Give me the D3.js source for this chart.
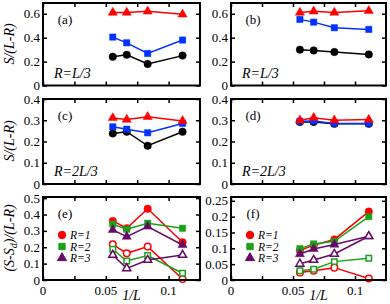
<!DOCTYPE html>
<html>
<head>
<meta charset="utf-8">
<script src="https://cdn.jsdelivr.net/npm/d3@7"></script>
<style>
  body { margin: 0; background: #fff; }
  svg text { font-family: "Liberation Serif", "DejaVu Serif", serif; }
</style>
</head>
<body>
<div id="chart"></div>
<script>
var svgWidth = 390;
var svgHeight = 304;

// 1/L for L = 18, 15, 12, 9
var invL = [1 / 18, 1 / 15, 1 / 12, 1 / 9];
var xTicks = [0, 0.025, 0.05, 0.075, 0.1];
var xLabels = [0, 0.05, 0.1];

// (a) R = L/3
var aTri = [0.61, 0.61, 0.62, 0.595];
var aSq = [0.405, 0.357, 0.268, 0.38];
var aCirc = [0.24, 0.257, 0.18, 0.25];
// (b) R = L/3
var bTri = [0.61, 0.62, 0.61, 0.625];
var bSq = [0.553, 0.53, 0.483, 0.469];
var bCirc = [0.30, 0.293, 0.28, 0.26];
// (c) R = 2L/3
var cTri = [0.311, 0.303, 0.316, 0.297];
var cSq = [0.269, 0.258, 0.241, 0.285];
var cCirc = [0.238, 0.246, 0.18, 0.246];
// (d) R = 2L/3
var dTri = [0.30, 0.312, 0.30, 0.303];
var dSq = [0.295, 0.297, 0.285, 0.285];
var dCirc = [0.292, 0.292, 0.283, 0.283];
// (e) filled / open, R = 1, 2, 3
var eR1 = [0.361, 0.316, 0.435, 0.231];
var eR2 = [0.341, 0.31, 0.347, 0.316];
var eR3 = [0.306, 0.265, 0.327, 0.214];
var eR1o = [0.218, 0.163, 0.204, 0.006];
var eR2o = [0.188, 0.116, 0.149, 0.041];
var eR3o = [0.153, 0.071, 0.122, 0.153];
// (f)
var fR1 = [0.093, 0.110, 0.128, 0.216];
var fR2 = [0.099, 0.114, 0.122, 0.200];
var fR3 = [0.082, 0.098, 0.112, 0.138];
var fR1o = [0.024, 0.029, 0.039, 0.005];
var fR2o = [0.029, 0.034, 0.058, 0.069];
var fR3o = [0.051, 0.063, 0.082, 0.138];

var red = "#ff0000", blue = "#0033ff", black = "#000000",
    green = "#1aa01a", purple = "#660a66";

var svg = d3.select("#chart").append("svg")
  .attr("width", svgWidth)
  .attr("height", svgHeight);

var cols = [[43, 200], [231, 386]];
var rows = [[3, 85.5], [99, 184], [197, 280]];

function symbolFor(shape, open) {
  if (shape === "circle") return d3.symbol().type(d3.symbolCircle).size(open ? 34 : 44);
  if (shape === "square") return d3.symbol().type(d3.symbolSquare).size(open ? 30 : 40);
  return d3.symbol().type(d3.symbolTriangle).size(open ? 28 : 36);
}

function drawPanel(p) {
  var x = d3.scaleLinear().domain([0, 0.125]).range(cols[p.col]);
  var y = d3.scaleLinear().domain(p.yDomain).range([rows[p.row][1], rows[p.row][0]]);
  var g = svg.append("g");

  // series
  p.series.forEach(function(s) {
    var pts = invL.map(function(v, i) { return [v, s.values[i]]; });
    g.append("path")
      .attr("d", d3.line().x(d => x(d[0])).y(d => y(d[1]))(pts))
      .attr("fill", "none")
      .attr("stroke", s.color)
      .attr("stroke-width", 1.5);
    g.selectAll(null)
      .data(pts)
      .enter()
      .append("path")
      .attr("transform", d => `translate(${x(d[0])},${y(d[1])})`)
      .attr("d", symbolFor(s.shape, s.open)())
      .attr("fill", s.open ? "#fff" : s.color)
      .attr("stroke", s.color)
      .attr("stroke-width", s.open ? 1.5 : 0.5);
  });

  // inward ticks on all four sides
  var tl = 4;
  var bottomAxis = d3.axisBottom(x).tickValues(xTicks).tickSize(-tl).tickFormat("");
  var topAxis = d3.axisTop(x).tickValues(xTicks).tickSize(-tl).tickFormat("");
  var leftAxis = d3.axisLeft(y).tickValues(p.yTicks).tickSize(-tl).tickFormat("");
  var rightAxis = d3.axisRight(y).tickValues(p.yTicks).tickSize(-tl).tickFormat("");
  [[bottomAxis, `translate(0,${y.range()[0]})`],
   [topAxis, `translate(0,${y.range()[1]})`],
   [leftAxis, `translate(${x.range()[0]},0)`],
   [rightAxis, `translate(${x.range()[1]},0)`]].forEach(function(a) {
    var ax = g.append("g").attr("transform", a[1]).call(a[0]);
    ax.select(".domain").remove();
    ax.selectAll("line").attr("stroke", "#000").attr("stroke-width", 1.5);
  });

  // frame
  g.append("rect")
    .attr("x", x.range()[0]).attr("y", y.range()[1])
    .attr("width", x.range()[1] - x.range()[0])
    .attr("height", y.range()[0] - y.range()[1])
    .attr("fill", "none").attr("stroke", "#000").attr("stroke-width", 2);

  // y tick labels
  g.selectAll(null)
    .data(p.yTicks)
    .enter()
    .append("text")
    .attr("x", x.range()[0] - 3)
    .attr("y", d => y(d) + 4.5)
    .attr("text-anchor", "end")
    .attr("font-size", "13px")
    .text(d => d);

  // x tick labels on bottom row
  if (p.row === 2) {
    g.selectAll(null)
      .data(xLabels)
      .enter()
      .append("text")
      .attr("x", d => x(d))
      .attr("y", y.range()[0] + 15)
      .attr("text-anchor", "middle")
      .attr("font-size", "13px")
      .text(d => d);
    g.append("text")
      .attr("x", (x.range()[0] + x.range()[1]) / 2 + 10)
      .attr("y", 300)
      .attr("text-anchor", "middle")
      .attr("font-size", "14px")
      .attr("font-style", "italic")
      .text("1/L");
  }

  // panel tag and R label
  g.append("text")
    .attr("x", x.range()[0] + 22)
    .attr("y", y.range()[1] + 21)
    .attr("text-anchor", "middle")
    .attr("font-size", "13px")
    .text(p.tag);
  if (p.rLabel) {
    g.append("text")
      .attr("x", x.range()[0] + 11)
      .attr("y", y.range()[0] - 8)
      .attr("font-size", "14px")
      .attr("font-style", "italic")
      .text(p.rLabel);
  }

  // legend
  if (p.legend) {
    var lx = x.range()[0] + 19;
    var ly = y.range()[1] + 38;
    p.series.slice(0, 3).forEach(function(s, i) {
      g.append("path")
        .attr("transform", `translate(${lx},${ly + i * 11.5})`)
        .attr("d", symbolFor(s.shape, false)())
        .attr("fill", s.color)
        .attr("stroke", s.color);
      g.append("text")
        .attr("x", lx + 8)
        .attr("y", ly + i * 11.5 + 4)
        .attr("font-size", "11.5px")
        .attr("font-style", "italic")
        .text("R=" + (i + 1));
    });
  }
}

var panels = [
  { col: 0, row: 0, tag: "(a)", rLabel: "R=L/3", yDomain: [0, 0.69], yTicks: [0, 0.2, 0.4, 0.6],
    series: [{ values: aTri, color: red, shape: "triangle" },
             { values: aSq, color: blue, shape: "square" },
             { values: aCirc, color: black, shape: "circle" }] },
  { col: 1, row: 0, tag: "(b)", rLabel: "R=L/3", yDomain: [0, 0.69], yTicks: [0, 0.2, 0.4, 0.6],
    series: [{ values: bTri, color: red, shape: "triangle" },
             { values: bSq, color: blue, shape: "square" },
             { values: bCirc, color: black, shape: "circle" }] },
  { col: 0, row: 1, tag: "(c)", rLabel: "R=2L/3", yDomain: [0, 0.4], yTicks: [0, 0.1, 0.2, 0.3, 0.4],
    series: [{ values: cCirc, color: black, shape: "circle" },
             { values: cSq, color: blue, shape: "square" },
             { values: cTri, color: red, shape: "triangle" }] },
  { col: 1, row: 1, tag: "(d)", rLabel: "R=2L/3", yDomain: [0, 0.4], yTicks: [0, 0.1, 0.2, 0.3, 0.4],
    series: [{ values: dCirc, color: black, shape: "circle" },
             { values: dSq, color: blue, shape: "square" },
             { values: dTri, color: red, shape: "triangle" }] },
  { col: 0, row: 2, tag: "(e)", legend: true, yDomain: [0, 0.507], yTicks: [0, 0.1, 0.2, 0.3, 0.4, 0.5],
    series: [{ values: eR1, color: red, shape: "circle" },
             { values: eR2, color: green, shape: "square" },
             { values: eR3, color: purple, shape: "triangle" },
             { values: eR1o, color: red, shape: "circle", open: true },
             { values: eR2o, color: green, shape: "square", open: true },
             { values: eR3o, color: purple, shape: "triangle", open: true }] },
  { col: 1, row: 2, tag: "(f)", legend: true, yDomain: [0, 0.262], yTicks: [0, 0.05, 0.1, 0.15, 0.2, 0.25],
    series: [{ values: fR1, color: red, shape: "circle" },
             { values: fR2, color: green, shape: "square" },
             { values: fR3, color: purple, shape: "triangle" },
             { values: fR1o, color: red, shape: "circle", open: true },
             { values: fR2o, color: green, shape: "square", open: true },
             { values: fR3o, color: purple, shape: "triangle", open: true }] }
];

panels.forEach(drawPanel);

// y axis titles
function yTitle(cy, parts) {
  var t = svg.append("text")
    .attr("transform", `translate(14,${cy}) rotate(-90)`)
    .attr("text-anchor", "middle")
    .attr("font-size", "14px")
    .attr("font-style", "italic");
  parts.forEach(function(p) {
    var ts = t.append("tspan").text(p.t);
    if (p.sub) ts.attr("font-size", "10px").attr("dy", 3);
    if (p.back) ts.attr("dy", -3);
  });
}
yTitle(44, [{ t: "S/(L-R)" }]);
yTitle(141, [{ t: "S/(L-R)" }]);
yTitle(238, [{ t: "(S-S" }, { t: "d", sub: true }, { t: ")/(L-R)", back: true }]);
</script>
</body>
</html>
